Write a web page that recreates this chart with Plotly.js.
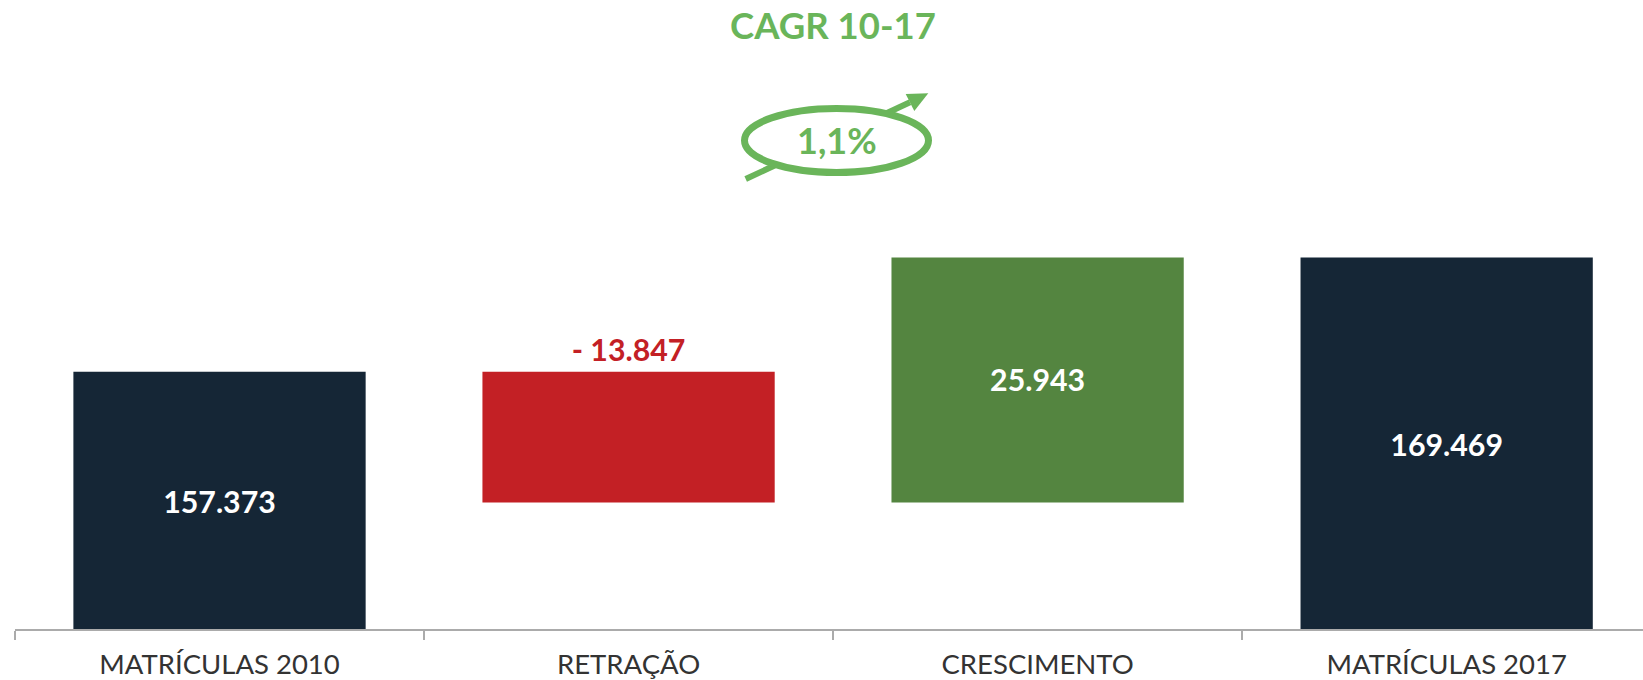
<!DOCTYPE html>
<html><head><meta charset="utf-8">
<script src="https://cdn.plot.ly/plotly-3.0.1.min.js"></script>
<style>html,body{margin:0;padding:0;background:#fff;overflow:hidden}#c{width:1643px;height:680px}</style>
</head><body><div id="c"></div>
<script>
const categories = ['MATRÍCULAS 2010','RETRAÇÃO','CRESCIMENTO','MATRÍCULAS 2017'];
const barValues = [157373, 13847, 25943, 169469];
const barBases = [0, 143526, 143526, 0];
const barLabels = ['157.373','- 13.847','25.943','169.469'];
const barColors = ['#152636','#C32025','#548540','#152636'];
const labelPositions = ['middle center','top center','middle center','middle center'];
const labelColors = ['#ffffff','#C32025','#ffffff','#ffffff'];
const axisFloor = 130150;

const W=1643,H=680,L=15,B=51,green='#6AB55A';
const PW=W-L, PH=H-B;
const px=x=>(x-L)/PW, py=y=>1-y/PH;
const common={xref:'paper',yref:'paper'};
const shapes=[
 {...common,type:'line',x0:px(745.7),y0:py(179),x1:px(910),y1:py(102.3),line:{color:green,width:6},layer:'above'},
 {...common,type:'path',path:`M${px(928.3)},${py(93.3)} L${px(905.7)},${py(94)} L${px(914.3)},${py(111)} Z`,fillcolor:green,line:{color:green,width:0},layer:'above'},
 {...common,type:'circle',x0:px(744.5),x1:px(928.5),y0:py(172.5),y1:py(108.5),fillcolor:'#ffffff',line:{color:green,width:7},layer:'above'}
];
const annotations=[
 {...common,x:px(833),y:py(25),text:'<b>CAGR 10-17</b>',showarrow:false,font:{family:'Lato',size:36.5,color:green},xanchor:'center',yanchor:'middle'},
 {...common,x:px(837),y:py(140),text:'<b>1,1%</b>',showarrow:false,font:{family:'Lato',size:36,color:green},xanchor:'center',yanchor:'middle'}
];
// Label anchor: middle of the visible part of each bar, or the bar top for the red one,
// plus a small optical shift in axis units.
const labelShift = [-554, 332, -332, -554];
const labelY = barValues.map((v,i)=>{
  const top=barBases[i]+v, low=Math.max(barBases[i],axisFloor);
  return (labelPositions[i]==='top center' ? top : (top+low)/2)+labelShift[i];
});
Plotly.newPlot('c',[{
  type:'bar',x:categories,y:barValues,base:barBases,
  marker:{color:barColors,line:{width:0}},width:0.7145,hoverinfo:'skip'
},{
  type:'scatter',mode:'text',x:categories,y:labelY,text:barLabels,textposition:labelPositions,
  textfont:{family:'Lato',size:30.3,color:labelColors,weight:700},cliponaxis:false,hoverinfo:'skip'
}],{
  width:W,height:H,margin:{l:L,r:0,t:0,b:B,pad:0},
  paper_bgcolor:'#fff',plot_bgcolor:'#fff',showlegend:false,
  font:{family:'Lato'},
  xaxis:{type:'category',range:[-0.5,3.48],tickson:'boundaries',ticks:'outside',ticklen:9,tickwidth:2,tickcolor:'#ABABAB',
    showline:true,linecolor:'#ABABAB',linewidth:2,showgrid:false,zeroline:false,
    tickfont:{family:'Lato',size:27.5,color:'#333333'},fixedrange:true,ticklabelstandoff:10},
  yaxis:{range:[axisFloor,196720],visible:false,fixedrange:true,showgrid:false,zeroline:false},
  shapes,annotations
},{displayModeBar:false,responsive:false});
</script></body></html>
